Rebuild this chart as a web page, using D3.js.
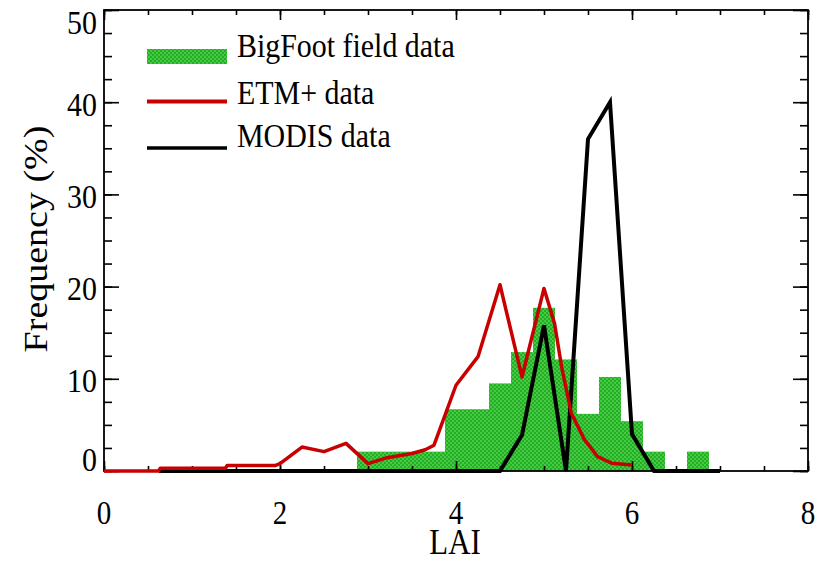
<!DOCTYPE html>
<html>
<head>
<meta charset="utf-8">
<script src="https://cdn.jsdelivr.net/npm/d3@7"></script>
<style>
  body { margin: 0; background: #fff; }
  svg { display: block; }
  text { font-family: "Liberation Serif", "Times New Roman", serif; fill: #000; }
</style>
</head>
<body>
<div id="chart"></div>
<script>
// BigFoot field data histogram (bin centres, bin width 0.25 LAI)
const bigfootLai = [3.0, 3.25, 3.5, 3.75, 4.0, 4.25, 4.5, 4.75, 5.0, 5.25, 5.5, 5.75, 6.0, 6.25, 6.5, 6.75];
const bigfootFreq = [2.1, 2.1, 2.1, 2.1, 6.7, 6.7, 9.5, 12.9, 17.7, 12.1, 6.2, 10.2, 5.4, 2.1, 0, 2.1];

// ETM+ data line
const etmLai = [0, 0.62, 0.64, 1.38, 1.4, 1.95, 2.0, 2.25, 2.5, 2.75, 3.0, 3.2, 3.5, 3.65, 3.75, 4.0, 4.25, 4.5, 4.75, 5.0, 5.12, 5.2, 5.31, 5.46, 5.61, 5.77, 6.0];
const etmFreq = [0, 0, 0.3, 0.3, 0.6, 0.6, 0.8, 2.6, 2.1, 3.0, 0.8, 1.4, 1.9, 2.3, 2.8, 9.3, 12.4, 20.2, 10.2, 19.8, 16.0, 11.3, 6.3, 3.4, 1.55, 0.84, 0.65];

// MODIS data line
const modisLai = [0.625, 4.5, 4.75, 5.0, 5.25, 5.5, 5.75, 6.0, 6.25, 7.0];
const modisFreq = [0, 0, 3.9, 15.8, 0, 36, 40, 4, 0, 0];

const xMajor = [0, 2, 4, 6, 8];
const yMajor = [0, 10, 20, 30, 40, 50];
const legendLabels = ["BigFoot field data", "ETM+ data", "MODIS data"];

const width = 824;
const height = 562;
const plotLeft = 104, plotRight = 808, plotTop = 10, plotBottom = 471;
const binWidth = 0.25;
const squeeze = "scale(0.88,1)";

const svg = d3.select("#chart").append("svg")
  .attr("width", width)
  .attr("height", height);

// dotted green fill
const pattern = svg.append("defs").append("pattern")
  .attr("id", "dots")
  .attr("patternUnits", "userSpaceOnUse")
  .attr("width", 4)
  .attr("height", 4);
pattern.append("rect").attr("width", 4).attr("height", 4).attr("fill", "#22b022");
pattern.append("circle").attr("cx", 1).attr("cy", 1).attr("r", 0.9).attr("fill", "#58d658");
pattern.append("circle").attr("cx", 3).attr("cy", 3).attr("r", 0.9).attr("fill", "#58d658");

const x = d3.scaleLinear().domain([0, 8]).range([plotLeft, plotRight]);
const y = d3.scaleLinear().domain([0, 50]).range([plotBottom, plotTop]);

// bars
svg.append("g")
  .selectAll("rect")
  .data(bigfootLai.map((d, i) => ({ lai: d, freq: bigfootFreq[i] })))
  .enter()
  .append("rect")
  .attr("x", (d) => x(d.lai - binWidth / 2))
  .attr("width", (d) => x(d.lai + binWidth / 2) - x(d.lai - binWidth / 2))
  .attr("y", (d) => y(d.freq))
  .attr("height", (d) => y(0) - y(d.freq))
  .attr("fill", "url(#dots)");

// axes (ticks point inward, like the original)
const minorX = d3.range(0, 8.01, 0.5);
const minorY = d3.range(0, 50.01, 2.5);

const tickAxis = (axis, pos, vals, size) => {
  const g = svg.append("g")
    .attr("transform", pos)
    .call(axis.tickValues(vals).tickSize(size).tickFormat(""));
  g.select(".domain").remove();
  g.selectAll("line").attr("stroke", "#000").attr("stroke-width", 1.6);
  return g;
};

tickAxis(d3.axisBottom(x), `translate(0,${plotBottom})`, minorX, -5);
tickAxis(d3.axisBottom(x), `translate(0,${plotBottom})`, xMajor, -10);
tickAxis(d3.axisTop(x), `translate(0,${plotTop})`, minorX, -5);
tickAxis(d3.axisTop(x), `translate(0,${plotTop})`, xMajor, -10);
tickAxis(d3.axisLeft(y), `translate(${plotLeft},0)`, minorY, -8);
tickAxis(d3.axisLeft(y), `translate(${plotLeft},0)`, yMajor, -15);
tickAxis(d3.axisRight(y), `translate(${plotRight},0)`, minorY, -8);
tickAxis(d3.axisRight(y), `translate(${plotRight},0)`, yMajor, -15);

svg.append("rect")
  .attr("x", plotLeft)
  .attr("y", plotTop)
  .attr("width", plotRight - plotLeft)
  .attr("height", plotBottom - plotTop)
  .attr("fill", "none")
  .attr("stroke", "#000")
  .attr("stroke-width", 1.8);

// tick labels
svg.append("g")
  .selectAll("text")
  .data(xMajor)
  .enter()
  .append("text")
  .attr("transform", (d) => `translate(${x(d)},524) ${squeeze}`)
  .attr("text-anchor", "middle")
  .attr("font-size", 33)
  .text((d) => d);

svg.append("g")
  .selectAll("text")
  .data(yMajor)
  .enter()
  .append("text")
  .attr("transform", (d) => {
    const cy = Math.max(plotTop + 12, Math.min(plotBottom - 12, y(d) + 2));
    return `translate(97,${cy + 11.5}) ${squeeze}`;
  })
  .attr("text-anchor", "end")
  .attr("font-size", 34)
  .text((d) => d);

// axis titles
svg.append("text")
  .attr("transform", `translate(455,554) ${squeeze}`)
  .attr("text-anchor", "middle")
  .attr("font-size", 35)
  .text("LAI");

svg.append("text")
  .attr("transform", "translate(47,239) rotate(-90) scale(1,0.88)")
  .attr("text-anchor", "middle")
  .attr("font-size", 38)
  .text("Frequency (%)");

// lines
const line = d3.line().x((d) => x(d[0])).y((d) => y(d[1]));

svg.append("path")
  .datum(modisLai.map((d, i) => [d, modisFreq[i]]))
  .attr("d", line)
  .attr("fill", "none")
  .attr("stroke", "#000")
  .attr("stroke-width", 4)
  .attr("stroke-linejoin", "miter");

svg.append("path")
  .datum(etmLai.map((d, i) => [d, etmFreq[i]]))
  .attr("d", line)
  .attr("fill", "none")
  .attr("stroke", "#c80000")
  .attr("stroke-width", 3.5)
  .attr("stroke-linejoin", "round");

// legend
const legend = svg.append("g");
legend.append("rect")
  .attr("x", 147).attr("y", 49)
  .attr("width", 80).attr("height", 15)
  .attr("fill", "url(#dots)");
legend.append("line")
  .attr("x1", 147).attr("x2", 227)
  .attr("y1", 101.5).attr("y2", 101.5)
  .attr("stroke", "#c80000").attr("stroke-width", 4);
legend.append("line")
  .attr("x1", 147).attr("x2", 227)
  .attr("y1", 148).attr("y2", 148)
  .attr("stroke", "#000").attr("stroke-width", 3.5);

legend.selectAll("text")
  .data(legendLabels)
  .enter()
  .append("text")
  .attr("transform", (d, i) => `translate(237,${[57, 104, 147][i]}) ${squeeze}`)
  .attr("font-size", 34)
  .text((d) => d);
</script>
</body>
</html>
